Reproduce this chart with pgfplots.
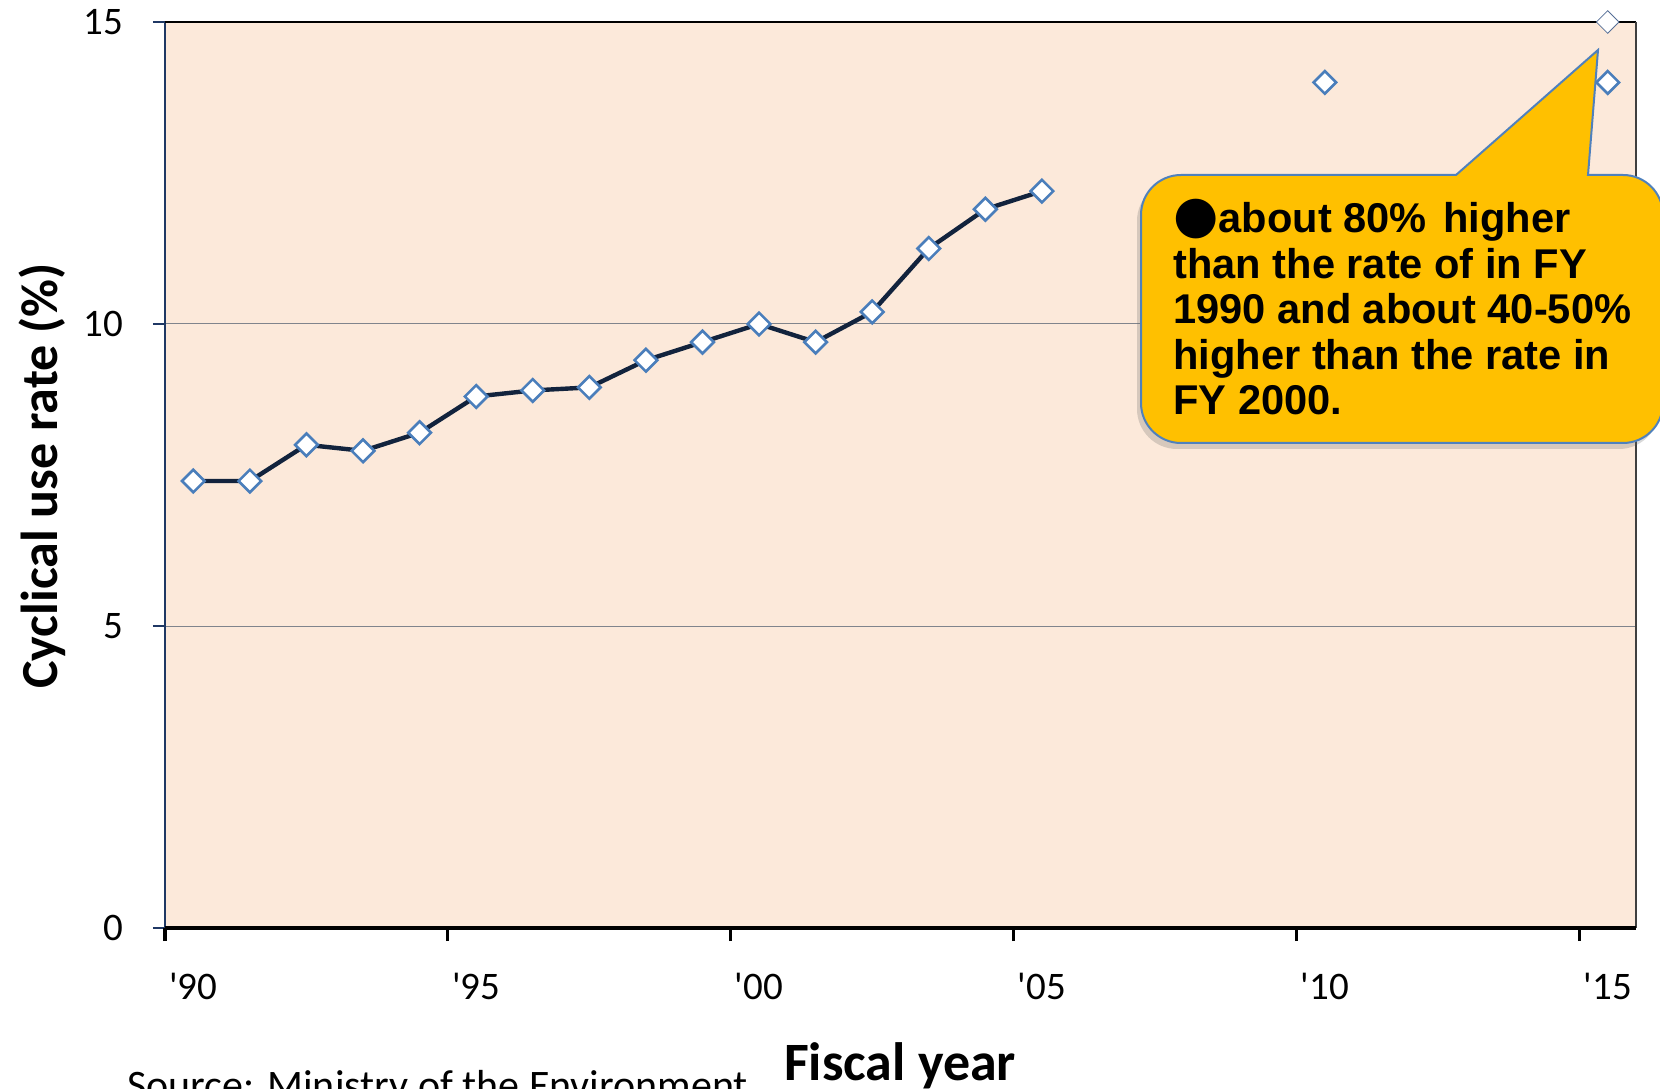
\documentclass[border=0pt]{standalone}
\usepackage{pgfplots}
\pgfplotsset{compat=1.18}
\usepackage{fontspec}
\setmainfont{Carlito}[Ligatures=TeXOff]
\newfontfamily\arialfont{Liberation Sans}
\newfontfamily\djv{DejaVu Sans}
\usetikzlibrary{shadows}
\definecolor{bgc}{HTML}{FCE9DA}
\definecolor{linec}{HTML}{12233D}
\definecolor{markc}{HTML}{4A7EBB}
\definecolor{navyc}{HTML}{1F3864}
\definecolor{gridc}{RGB}{128,132,140}
\definecolor{gold}{HTML}{FFC000}
\definecolor{calloutb}{HTML}{4F81BD}
\definecolor{graymk}{RGB}{85,110,150}
\begin{document}
\begin{tikzpicture}
\useasboundingbox (-82.5pt,-80pt) rectangle (747.5pt,464pt);
\clip (-82.5pt,-80pt) rectangle (747.5pt,464pt);
\begin{axis}[name=ax, at={(0,0)}, anchor=south west, scale only axis,
  width=735.5pt, height=453pt,
  xmin=-0.5, xmax=25.5, ymin=0, ymax=15, clip=false,
  axis line style={draw=none},
  axis background/.style={fill=bgc},
  /pgf/number format/assume math mode=true,
  ytick={0,5,10,15}, ytick pos=left, xtick pos=bottom,
  tick align=outside, major tick length=6pt,
  ytick style={draw=navyc, line width=1pt},
  ymajorgrids, grid style={draw=gridc, line width=0.5pt},
  xtick={0,5,10,15,20,25},
  xticklabels={'90,'95,'00,'05,'10,'15},
  xtick style={draw=none},
  extra x ticks={-0.5,4.5,9.5,14.5,19.5,24.5},
  extra x tick labels={},
  extra x tick style={xtick style={draw=black, line width=1.6pt}, major tick length=6.5pt},
  yticklabel style={font=\fontsize{19.5}{19.5}\selectfont, anchor=east, inner sep=0pt, xshift=-14.7pt},
  xticklabel style={font=\fontsize{19.5}{19.5}\selectfont, anchor=base, inner sep=0pt, yshift=-29.5pt},
]
\draw[navyc, line width=0.75pt] (rel axis cs:0,0) -- (rel axis cs:0,1);
\draw[black, line width=1pt] (rel axis cs:0,1) -- (rel axis cs:1,1);
\draw[black!75, line width=0.6pt] (rel axis cs:1,1) -- (rel axis cs:1,0);
\draw[black, line width=2pt] (rel axis cs:0,0) -- (rel axis cs:1,0);
\addplot[color=linec, line width=2.2pt, mark=square*, mark size=4pt,
  mark options={rotate=45, fill=white, draw=markc, line width=1.3pt}]
  coordinates {(0,7.4)(1,7.4)(2,8.0)(3,7.9)(4,8.2)(5,8.8)(6,8.9)(7,8.95)
  (8,9.4)(9,9.7)(10,10.0)(11,9.7)(12,10.2)(13,11.25)(14,11.9)(15,12.2)};
\addplot[only marks, mark=square*, mark size=4pt,
  mark options={rotate=45, fill=white, draw=markc, line width=1.3pt}]
  coordinates {(20,14.0)(25,14.0)};
\addplot[only marks, mark=square*, mark size=4pt,
  mark options={rotate=45, fill=white, draw=graymk, line width=0.4pt}]
  coordinates {(25,15)};
\end{axis}
\filldraw[fill=gold, draw=calloutb, line width=1pt,
  drop shadow={shadow xshift=-2pt, shadow yshift=-3pt, opacity=0.25, fill=black!60}]
  (488pt,356.5pt) arc[start angle=180, end angle=90, radius=20pt]
  -- (645.5pt,376.5pt) -- (716.5pt,439pt) -- (711.5pt,376.5pt) -- (729pt,376.5pt)
  arc[start angle=90, end angle=0, radius=20pt] -- (749pt,262.5pt)
  arc[start angle=0, end angle=-90, radius=20pt] -- (508pt,242.5pt)
  arc[start angle=270, end angle=180, radius=20pt] -- cycle;
\node[anchor=base west, align=left, inner sep=0pt,
  font=\arialfont\bfseries\fontsize{20.8}{22.75}\selectfont] at (504pt,256.5pt)
  {{\djv\fontsize{26}{22.75}\selectfont ●}about 80\%\hspace{0.4em}higher\\than the rate of in FY\\1990 and about 40-50\%\\higher than the rate in\\FY 2000.};
\node[rotate=90, font=\bfseries\fontsize{26}{26}\selectfont] at (-61.5pt,226pt) {Cyclical use rate (\%)};
\node[anchor=base, inner sep=0pt, font=\bfseries\fontsize{27}{27}\selectfont] at (367.5pt,-76pt) {Fiscal year};
\node[anchor=base west, inner sep=0pt, font=\fontsize{21}{21}\selectfont] at (-19pt,-85.5pt) {Source: Ministry of the Environment};
\end{tikzpicture}
\end{document}
